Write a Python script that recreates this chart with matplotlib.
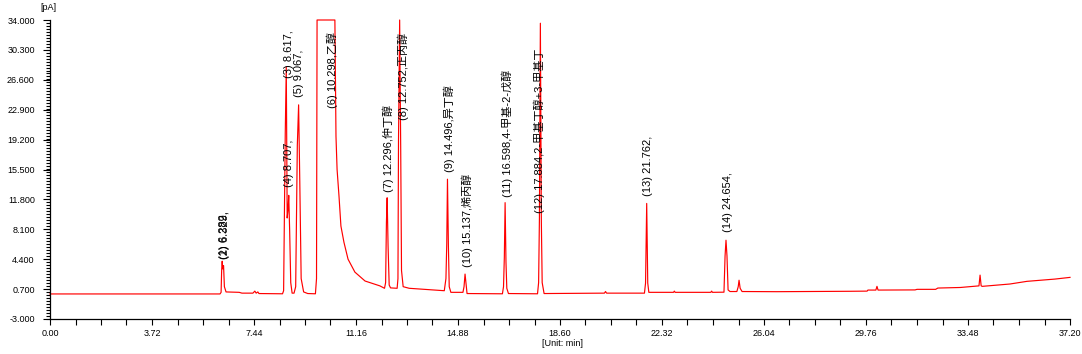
import matplotlib
matplotlib.use("Agg")
import matplotlib.pyplot as plt
from matplotlib.ticker import MultipleLocator, FormatStrFormatter

plt.rcParams['font.family'] = ['Liberation Sans', 'Noto Sans CJK SC', 'DejaVu Sans']

# Retention time (min) and detector signal (pA)
rt = [0.00, 6.20, 6.24, 6.26, 6.28, 6.30, 6.33, 6.36, 6.42, 6.90, 7.00, 7.40, 7.47, 7.52, 7.58, 7.62,
      8.48, 8.52, 8.58, 8.617, 8.65, 8.68, 8.707, 8.74, 8.78, 8.83, 8.90, 8.96, 9.02, 9.067, 9.11, 9.16,
      9.25, 9.40, 9.68, 9.72, 9.74, 10.39, 10.43, 10.47, 10.54, 10.61, 10.72, 10.87, 11.12, 11.49, 12.03,
      12.20, 12.24, 12.27, 12.296, 12.33, 12.37, 12.42, 12.66, 12.69, 12.71, 12.752, 12.79, 12.82, 12.88,
      13.10, 14.38, 14.44, 14.47, 14.496, 14.53, 14.56, 14.62, 15.06, 15.10, 15.137, 15.17, 15.21,
      16.50, 16.54, 16.57, 16.598, 16.63, 16.66, 16.72, 17.78, 17.82, 17.85, 17.884, 17.92, 17.95, 18.02,
      20.22, 20.26, 20.30, 21.68, 21.72, 21.762, 21.80, 21.84, 22.74, 22.77, 22.80, 24.10, 24.13, 24.16,
      24.58, 24.62, 24.654, 24.69, 24.73, 24.80, 25.05, 25.10, 25.13, 25.17, 25.24, 26.50, 27.80, 29.17,
      29.80, 29.83, 30.12, 30.16, 30.20, 31.55, 31.62, 32.30, 32.38, 33.20, 33.70, 33.88, 33.92, 33.96,
      34.00, 34.54, 35.01, 35.63, 36.21, 36.65, 37.20]
signal = [0.10, 0.10, 0.30, 3.0, 4.15, 3.2, 3.6, 1.0, 0.35, 0.30, 0.20, 0.20, 0.45, 0.20, 0.35, 0.15,
          0.12, 0.5, 20.0, 28.2, 9.5, 10.5, 12.3, 8.0, 1.5, 0.2, 0.2, 1.0, 18.5, 23.5, 14.0, 2.0,
          0.35, 0.15, 0.12, 2.0, 34.0, 34.0, 19.6, 15.5, 12.2, 8.5, 6.5, 4.4, 2.8, 1.7, 1.1,
          0.8, 1.5, 9.0, 12.0, 6.0, 1.2, 0.85, 0.80, 2.0, 19.0, 34.0, 18.3, 3.0, 1.0,
          0.80, 0.50, 2.0, 6.3, 14.3, 6.0, 1.0, 0.30, 0.30, 1.0, 2.56, 1.5, 0.15,
          0.12, 1.0, 4.65, 11.4, 4.0, 0.8, 0.15, 0.12, 1.5, 9.6, 33.6, 9.0, 1.5, 0.15,
          0.20, 0.40, 0.20, 0.20, 1.45, 11.3, 1.45, 0.30, 0.30, 0.45, 0.30, 0.30, 0.45, 0.30,
          0.32, 4.8, 6.75, 4.8, 0.6, 0.40, 0.40, 1.0, 1.80, 0.8, 0.40, 0.38, 0.40, 0.43,
          0.45, 0.58, 0.58, 1.04, 0.58, 0.60, 0.67, 0.67, 0.83, 0.90, 1.04, 1.1, 2.43, 1.1,
          1.04, 1.2, 1.33, 1.66, 1.82, 1.94, 2.15]

# Peak annotations: label text, label x (min), label base (pA)
peak_labels = ["(1) 6.282,", "(2) 6.329,", "(3) 8.617,", "(4) 8.707,", "(5) 9.067,",
               "(6) 10.298,乙醇", "(7) 12.296,仲丁醇", "(8) 12.752,正丙醇", "(9) 14.496,异丁醇",
               "(10) 15.137,烯丙醇", "(11) 16.598,4-甲基-2-戊醇", "(12) 17.884,2-甲基丁醇+3-甲基丁",
               "(13) 21.762,", "(14) 24.654,"]
label_x = [6.35, 6.38, 8.72, 8.72, 9.08, 10.28, 12.33, 12.87, 14.55, 15.21, 16.67, 17.83, 21.81, 24.73]
label_y = [4.42, 4.42, 26.8, 13.33, 24.47, 23.1, 12.71, 21.62, 15.19, 3.43, 12.09, 10.11, 12.22, 7.76]

y_ticks = [-3.0, 0.7, 4.4, 8.1, 11.8, 15.5, 19.2, 22.9, 26.6, 30.3, 34.0]
x_ticks = [0.00, 3.72, 7.44, 11.16, 14.88, 18.60, 22.32, 26.04, 29.76, 33.48, 37.20]

fig = plt.figure(figsize=(10.82, 3.54), dpi=100)
ax = fig.add_axes([50/1082, 35/354, 1020/1082, 299/354])

ax.plot(rt, signal, color='#ff0000', lw=0.85, clip_on=False)

for txt, x, y in zip(peak_labels, label_x, label_y):
    ax.text(x, y, txt, rotation=90, ha='center', va='bottom', fontsize=8, color='black')

ax.set_xlim(0, 37.2)
ax.set_ylim(-3, 34)
ax.set_xticks(x_ticks)
ax.set_yticks(y_ticks)
ax.xaxis.set_major_formatter(FormatStrFormatter('%.2f'))
ax.yaxis.set_major_formatter(FormatStrFormatter('%.3f'))
ax.xaxis.set_minor_locator(MultipleLocator(0.93))
ax.yaxis.set_minor_locator(MultipleLocator(0.37))
ax.tick_params(axis='x', which='both', length=4, width=0.8, direction='out', labelsize=6.5, pad=3)
ax.tick_params(axis='y', which='major', length=5, width=0.8, direction='out', labelsize=6.5, pad=6)
ax.tick_params(axis='y', which='minor', length=3, width=0.8, direction='out')
for s in ['top', 'right']:
    ax.spines[s].set_visible(False)
for s in ['left', 'bottom']:
    ax.spines[s].set_linewidth(0.9)

fig.text(48/1082, 1 - 8/354, "[pA]", fontsize=6.5, ha='center', va='center')
fig.text(563/1082, 1 - 344/354, "[Unit: min]", fontsize=6.5, ha='center', va='center')

fig.savefig("out.png", dpi=100)
